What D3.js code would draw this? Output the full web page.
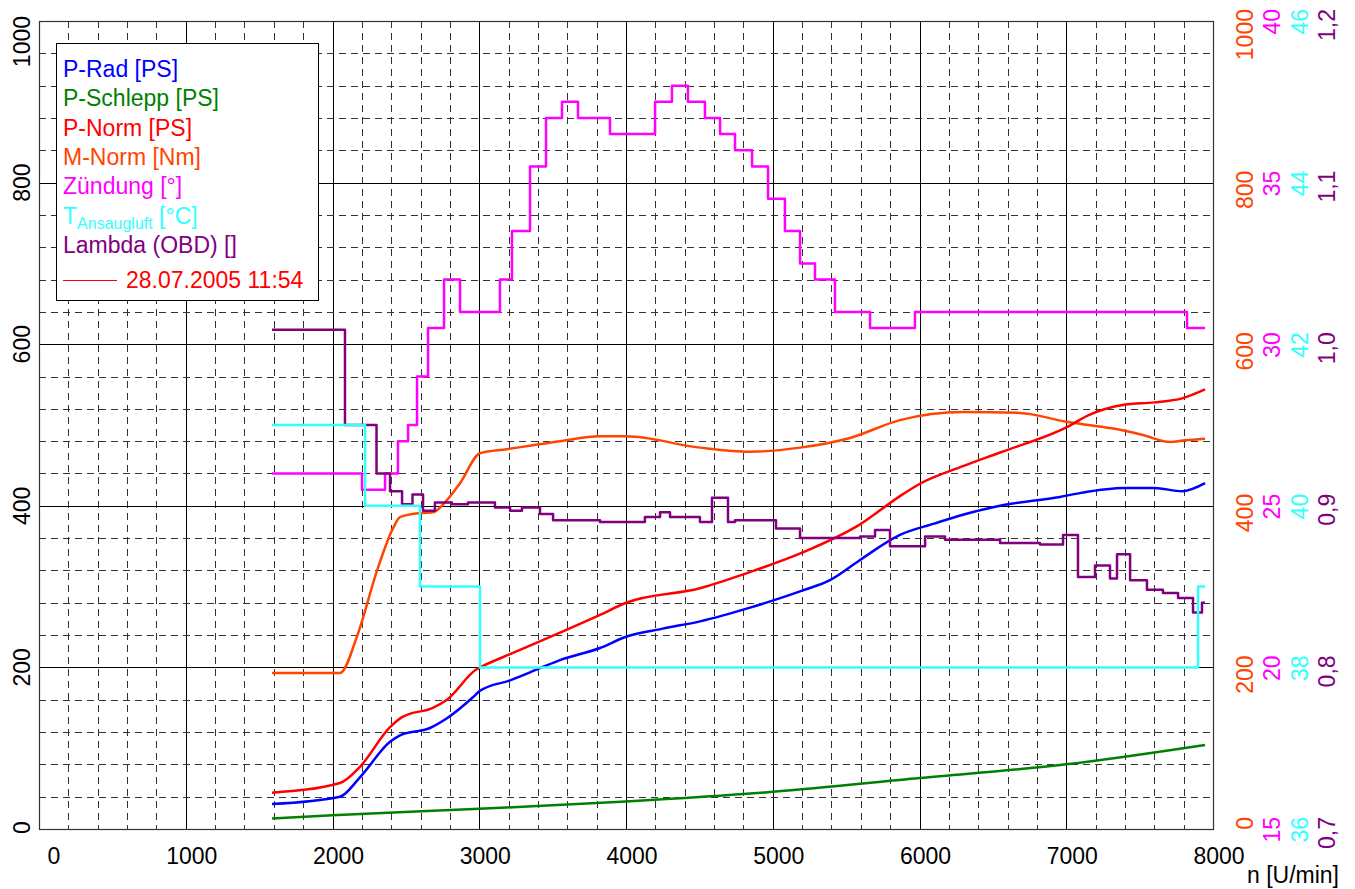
<!DOCTYPE html>
<html>
<head>
<meta charset="utf-8">
<script src="https://cdn.jsdelivr.net/npm/d3@7"></script>
<style>
body { margin: 0; background: #fff; }
text { font-family: "Liberation Sans", Arial, sans-serif; }
</style>
</head>
<body>
<svg id="mainsvg" width="1355" height="889"></svg>
<script>
// ---- data ----
const pRadRpm = [1588, 2051, 2187, 2392, 2460, 2664, 2780, 2957, 3005, 3210, 3414, 3550, 3823, 4000, 4250, 4504, 4845, 5200, 5390, 5595, 5867, 6100, 6296, 6549, 6957, 7100, 7394, 7600, 7790, 7946];
const pRadPS  = [31, 40, 64, 108, 116, 125, 137, 163, 171, 184, 199, 209, 224, 238, 248, 257, 274, 295, 308, 333, 364, 378, 389, 400, 411, 416, 422, 422, 418, 428];

const pSchleppRpm = [1588, 2000, 3000, 4000, 5000, 6000, 7000, 7946];
const pSchleppPS  = [13, 17, 25, 34, 46, 63, 80, 104];

const pNormRpm = [1588, 2051, 2187, 2392, 2480, 2684, 2780, 2984, 3005, 3230, 3550, 3823, 4000, 4504, 4845, 5200, 5595, 5867, 6000, 6296, 6549, 7000, 7150, 7394, 7600, 7790, 7946];
const pNormPS  = [45, 57, 77, 126, 139, 150, 160, 198, 200, 218, 243, 265, 280, 298, 318, 342, 377, 412, 427, 449, 466, 497, 512, 525, 528, 533, 544];

const mNormRpm = [1588, 2051, 2170, 2304, 2412, 2460, 2596, 2685, 2780, 2869, 3005, 3189, 3366, 3550, 3823, 4000, 4504, 4845, 5186, 5527, 5867, 6296, 6685, 7000, 7150, 7310, 7516, 7707, 7810, 7946];
const mNormNm  = [193, 193, 240, 320, 372, 386, 391, 392, 407, 428, 465, 470, 475, 480, 486, 486, 472, 467, 472, 484, 506, 516, 515, 504, 500, 496, 488, 479, 481, 483];

const zuendRpm = [1588, 2201, 2358, 2446, 2515, 2576, 2651, 2760, 2869, 3141, 3223, 3346, 3455, 3564, 3673, 3891, 4198, 4313, 4422, 4538, 4641, 4743, 4859, 4968, 5083, 5186, 5288, 5424, 5663, 5969, 7823, 7946];
const zuendDeg = [26, 25.5, 26, 27, 27.5, 29, 30.5, 32, 31, 32, 33.5, 35.5, 37, 37.5, 37, 36.5, 37.5, 38, 37.5, 37, 36.5, 36, 35.5, 34.5, 33.5, 32.5, 32, 31, 30.5, 31, 30.5, 30.5];

const tempRpm = [1588, 2222, 2596, 3005, 7898, 7946];
const tempC   = [41, 40, 39, 38, 39, 39];

const lambdaRpm = [1588, 2085, 2300, 2392, 2474, 2545, 2617, 2698, 2814, 2923, 3107, 3210, 3291, 3414, 3503, 3823, 4129, 4232, 4300, 4504, 4586, 4695, 4743, 5022, 5186, 5595, 5697, 5799, 6038, 6174, 6549, 6821, 6978, 7080, 7196, 7298, 7346, 7435, 7550, 7659, 7762, 7864, 7925, 7946];
const lambdaVal = [1.009, 0.950, 0.920, 0.909, 0.901, 0.907, 0.897, 0.902, 0.901, 0.902, 0.899, 0.897, 0.899, 0.895, 0.891, 0.890, 0.893, 0.896, 0.893, 0.890, 0.905, 0.890, 0.891, 0.886, 0.880, 0.881, 0.885, 0.875, 0.881, 0.879, 0.877, 0.876, 0.882, 0.856, 0.863, 0.855, 0.870, 0.854, 0.848, 0.846, 0.843, 0.834, 0.840, 0.840];

const legendNames = ["P-Rad [PS]", "P-Schlepp [PS]", "P-Norm [PS]", "M-Norm [Nm]", "Zündung [°]", "T", "Lambda (OBD) []"];
const legendColors = ["#0000ff", "#008000", "#ff0000", "#ff4500", "#ff00ff", "#33ffff", "#800080"];
const runLabel = "28.07.2005 11:54";

const xTicks = [0, 1000, 2000, 3000, 4000, 5000, 6000, 7000, 8000];
const psTicks = [0, 200, 400, 600, 800, 1000];
const nmTicks = [0, 200, 400, 600, 800, 1000];
const degTicks = [15, 20, 25, 30, 35, 40];
const tempTicks = [36, 38, 40, 42, 44, 46];
const lambdaTicks = [0.7, 0.8, 0.9, 1.0, 1.1, 1.2];

// ---- setup ----
let svg = d3.select('#mainsvg');
const pLeft = 39, pRight = 1213, pTop = 21, pBottom = 829;

const x = d3.scaleLinear().domain([0, 8000]).range([pLeft, pRight]);
const yPS = d3.scaleLinear().domain([0, 1000]).range([pBottom, pTop]);
const yNm = d3.scaleLinear().domain([0, 1000]).range([pBottom, pTop]);
const yDeg = d3.scaleLinear().domain([15, 40]).range([pBottom, pTop]);
const yTemp = d3.scaleLinear().domain([36, 46]).range([pBottom, pTop]);
const yLam = d3.scaleLinear().domain([0.7, 1.2]).range([pBottom, pTop]);

// grid
const grid = svg.append('g');
d3.range(200, 8000, 200).forEach(v => {
    const px = Math.round(x(v)) + 0.5;
    grid.append('line')
    .attr('x1', px).attr('x2', px).attr('y1', pTop).attr('y2', pBottom)
    .attr('stroke', v % 1000 === 0 ? '#000' : '#333')
    .attr('stroke-dasharray', v % 1000 === 0 ? null : '7,5');
});
d3.range(40, 1000, 40).forEach(v => {
    const py = Math.round(yPS(v)) + 0.5;
    grid.append('line')
    .attr('x1', pLeft).attr('x2', pRight).attr('y1', py).attr('y2', py)
    .attr('stroke', v % 200 === 0 ? '#000' : '#333')
    .attr('stroke-dasharray', v % 200 === 0 ? null : '7,5');
});
svg.append('rect')
.attr('x', pLeft + 0.5).attr('y', pTop + 0.5)
.attr('width', pRight - pLeft).attr('height', pBottom - pTop)
.attr('fill', 'none').attr('stroke', '#333').attr('stroke-width', 1.2);

// series
function drawSeries(xs, ys, yScale, color, curve) {
    const pts = xs.map((r, i) => [r, ys[i]]);
    svg.append('path').datum(pts)
    .attr('fill', 'none')
    .attr('stroke', color)
    .attr('stroke-width', 2.5)
    .attr('stroke-linejoin', 'round')
    .attr('d', d3.line().x(d => x(d[0])).y(d => yScale(d[1])).curve(curve));
}
drawSeries(pSchleppRpm, pSchleppPS, yPS, legendColors[1], d3.curveMonotoneX);
drawSeries(mNormRpm, mNormNm, yNm, legendColors[3], d3.curveMonotoneX);
drawSeries(pNormRpm, pNormPS, yPS, legendColors[2], d3.curveMonotoneX);
drawSeries(pRadRpm, pRadPS, yPS, legendColors[0], d3.curveMonotoneX);
drawSeries(zuendRpm, zuendDeg, yDeg, legendColors[4], d3.curveStepAfter);
drawSeries(lambdaRpm, lambdaVal, yLam, legendColors[6], d3.curveStepAfter);
drawSeries(tempRpm, tempC, yTemp, legendColors[5], d3.curveStepAfter);

// bottom axis labels
svg.selectAll('.xlab').data(xTicks).enter().append('text')
.attr('class', 'xlab')
.attr('x', d => d === 0 ? x(d) + 15 : x(d) + 6)
.attr('y', 864)
.attr('text-anchor', 'middle')
.attr('font-size', 23)
.text(d => d);
svg.append('text')
.attr('x', 1339).attr('y', 883)
.attr('text-anchor', 'end').attr('font-size', 23)
.text('n [U/min]');

// left axis labels (rotated, kept inside the frame)
svg.selectAll('.ylab').data(psTicks).enter().append('text')
.attr('class', 'ylab')
.attr('font-size', 23)
.attr('text-anchor', 'middle')
.text(d => d)
.each(function(d) {
    const w = this.getComputedTextLength();
    const cy = Math.max(16 + w / 2, Math.min(834 - w / 2, yPS(d)));
    d3.select(this).attr('transform', `translate(30,${cy}) rotate(-90)`);
});

// right axes
function rightAxis(ticks, yScale, xBase, color, fmt) {
    svg.append('g').selectAll('text').data(ticks).enter().append('text')
    .attr('transform', d => `translate(${xBase},${yScale(d) - 12}) rotate(-90)`)
    .attr('text-anchor', 'end')
    .attr('font-size', 23)
    .attr('fill', color)
    .text(fmt);
}
rightAxis(nmTicks, yNm, 1253, '#ff4500', d => d);
rightAxis(degTicks, yDeg, 1280, '#ff00ff', d => d);
rightAxis(tempTicks, yTemp, 1308, '#33ffff', d => d);
rightAxis(lambdaTicks, yLam, 1335, '#800080', d => d.toFixed(1).replace('.', ','));

// legend
const lg = svg.append('g');
lg.append('rect')
.attr('x', 56.5).attr('y', 43.5).attr('width', 262).attr('height', 257)
.attr('fill', '#fff').attr('stroke', '#000');
legendNames.forEach((name, i) => {
    const t = lg.append('text')
    .attr('x', 63).attr('y', 77 + i * 29.3)
    .attr('font-size', 23)
    .attr('fill', legendColors[i]);
    if (name === 'T') {
        t.append('tspan').text('T');
        t.append('tspan').attr('font-size', 16).attr('dy', 5).text('Ansaugluft');
        t.append('tspan').attr('dy', -5).text(' [°C]');
    } else {
        t.text(name);
    }
});
lg.append('line')
.attr('x1', 63).attr('x2', 117).attr('y1', 280.5).attr('y2', 280.5)
.attr('stroke', '#ff0000').attr('stroke-width', 1);
lg.append('text')
.attr('x', 126).attr('y', 288)
.attr('font-size', 23)
.attr('fill', '#ff0000')
.text(runLabel);
</script>
</body>
</html>
